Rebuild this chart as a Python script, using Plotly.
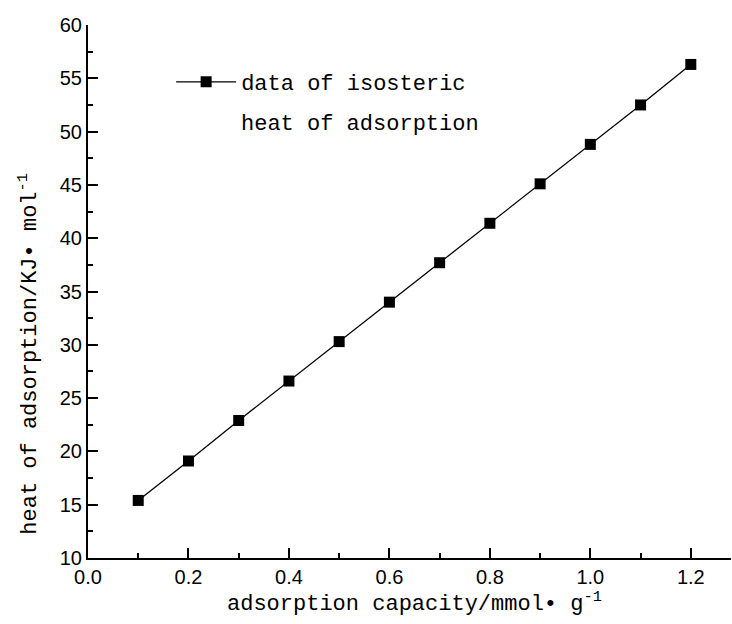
import plotly.graph_objects as go

# Adsorption capacity (mmol/g) and isosteric heat of adsorption (kJ/mol)
capacity = [0.1, 0.2, 0.3, 0.4, 0.5, 0.6, 0.7, 0.8, 0.9, 1.0, 1.1, 1.2]
heat = [15.4, 19.1, 22.9, 26.6, 30.3, 34.0, 37.7, 41.4, 45.1, 48.8, 52.5, 56.3]

x_ticks = [0.0, 0.2, 0.4, 0.6, 0.8, 1.0, 1.2]
x_tick_labels = ["0.0", "0.2", "0.4", "0.6", "0.8", "1.0", "1.2"]
y_ticks = [10, 15, 20, 25, 30, 35, 40, 45, 50, 55, 60]
y_tick_labels = [str(v) for v in y_ticks]

series_name = "data of isosteric"
series_name_cont = "heat of adsorption"
x_title = "adsorption capacity/mmol• g<sup>-1</sup>"
y_title = "heat of adsorption/KJ• mol<sup>-1</sup>"

label_font = "Liberation Mono"
sans = "Liberation Sans"

fig = go.Figure()
fig.add_trace(go.Scatter(
    x=capacity, y=heat, mode="lines+markers", name=series_name,
    line=dict(color="black", width=1.3),
    marker=dict(symbol="square", size=11, color="black"),
))

axis_common = dict(
    showline=True, linecolor="black", linewidth=2,
    ticks="inside", tickcolor="black", tickwidth=2, ticklen=10,
    showgrid=False, zeroline=False, mirror=False,
    tickfont=dict(family=sans, size=20, color="black"),
)

fig.update_xaxes(
    range=[0, 1.28], tickvals=x_ticks, ticktext=x_tick_labels,
    minor=dict(ticks="inside", ticklen=5, tickwidth=2, tickcolor="black", dtick=0.1, tick0=0),
    **axis_common,
)
fig.update_yaxes(
    range=[10, 60], tickvals=y_ticks, ticktext=y_tick_labels,
    minor=dict(ticks="inside", ticklen=5, tickwidth=2, tickcolor="black", dtick=2.5, tick0=10),
    **axis_common,
)

fig.add_annotation(
    text=x_title, xref="paper", yref="paper", x=0.507, y=-0.084,
    xanchor="center", yanchor="middle", showarrow=False,
    font=dict(family=label_font, size=22, color="black"),
)
fig.add_annotation(
    text=y_title, xref="paper", yref="paper", x=-0.092, y=0.383,
    xanchor="center", yanchor="middle", showarrow=False, textangle=-90,
    font=dict(family=label_font, size=22, color="black"),
)
# second line of the legend entry, aligned under the first
fig.add_annotation(
    text=series_name_cont, xref="paper", yref="paper", x=(239 - 88) / 643, y=(558 - 124) / 533,
    xanchor="left", yanchor="middle", showarrow=False,
    font=dict(family=label_font, size=22, color="black"),
)

fig.update_layout(
    width=732, height=624,
    margin=dict(l=88, r=1, t=25, b=66),
    paper_bgcolor="white", plot_bgcolor="white",
    showlegend=True,
    legend=dict(
        x=0.1293, y=0.9325, xanchor="left", yanchor="top",
        bgcolor="rgba(0,0,0,0)", borderwidth=0,
        font=dict(family=label_font, size=22, color="black"),
        itemwidth=60,
    ),
)

fig.write_html("out.html")
